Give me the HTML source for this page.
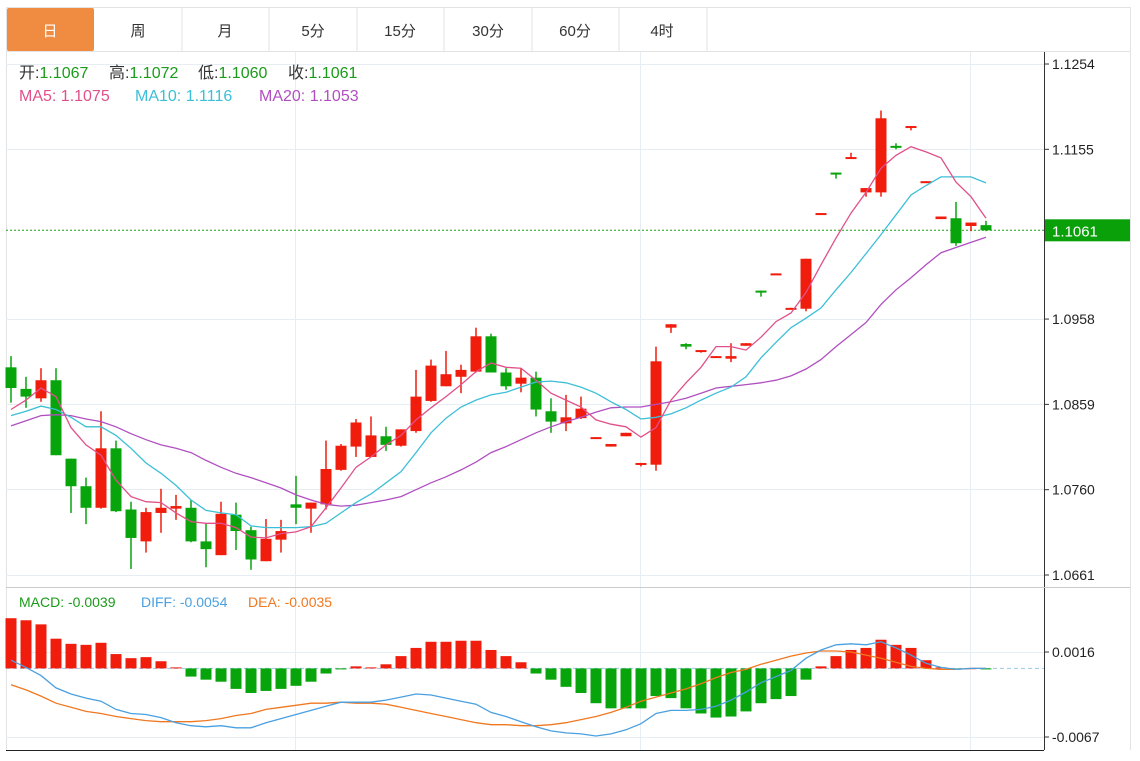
<!DOCTYPE html>
<html><head><meta charset="utf-8"><style>
html,body{margin:0;padding:0;background:#fff;}
body{width:1140px;height:756px;overflow:hidden;font-family:"Liberation Sans","Noto Sans CJK SC",sans-serif;}
svg text{font-family:"Liberation Sans","Noto Sans CJK SC",sans-serif;}
</style></head><body>
<svg id="chart" width="1140" height="756" xmlns="http://www.w3.org/2000/svg">
<g>
<rect x="6.5" y="7.5" width="1124" height="44" fill="#fff" stroke="#e3e3e3"/>
<rect x="7" y="8" width="87" height="43" rx="2" fill="#f08c42"/>
<text x="50" y="36" font-size="15" fill="#fff" text-anchor="middle">日</text>
<g><line x1="182" y1="8" x2="182" y2="51" stroke="#e3e3e3"/><text x="138" y="36" font-size="15" fill="#333" text-anchor="middle">周</text></g>
<g><line x1="269" y1="8" x2="269" y2="51" stroke="#e3e3e3"/><text x="225" y="36" font-size="15" fill="#333" text-anchor="middle">月</text></g>
<g><line x1="357" y1="8" x2="357" y2="51" stroke="#e3e3e3"/><text x="313" y="36" font-size="15" fill="#333" text-anchor="middle">5分</text></g>
<g><line x1="444" y1="8" x2="444" y2="51" stroke="#e3e3e3"/><text x="400" y="36" font-size="15" fill="#333" text-anchor="middle">15分</text></g>
<g><line x1="532" y1="8" x2="532" y2="51" stroke="#e3e3e3"/><text x="488" y="36" font-size="15" fill="#333" text-anchor="middle">30分</text></g>
<g><line x1="619" y1="8" x2="619" y2="51" stroke="#e3e3e3"/><text x="575" y="36" font-size="15" fill="#333" text-anchor="middle">60分</text></g>
<g><line x1="707" y1="8" x2="707" y2="51" stroke="#e3e3e3"/><text x="662" y="36" font-size="15" fill="#333" text-anchor="middle">4时</text></g>
</g>
<line x1="6.5" y1="51" x2="6.5" y2="750" stroke="#e3e3e3"/>
<line x1="1130.5" y1="51" x2="1130.5" y2="750" stroke="#e3e3e3"/>
<g id="grid"></g>
<g id="marks"></g>
<line x1="1044.5" y1="52" x2="1044.5" y2="750" stroke="#333"/>
<line x1="6" y1="587.5" x2="1130" y2="587.5" stroke="#ccc"/>
<line x1="6" y1="750.5" x2="1044" y2="750.5" stroke="#222"/>
<g id="axis"></g>
<g font-size="16">
<text x="19" y="78"><tspan fill="#333">开:</tspan><tspan fill="#1a9b1a">1.1067</tspan></text>
<text x="109" y="78"><tspan fill="#333">高:</tspan><tspan fill="#1a9b1a">1.1072</tspan></text>
<text x="198" y="78"><tspan fill="#333">低:</tspan><tspan fill="#1a9b1a">1.1060</tspan></text>
<text x="288" y="78"><tspan fill="#333">收:</tspan><tspan fill="#1a9b1a">1.1061</tspan></text>
</g>
<g font-size="16">
<text x="19" y="101" fill="#e0508a">MA5: 1.1075</text>
<text x="135" y="101" fill="#3cbfd6">MA10: 1.1116</text>
<text x="259" y="101" fill="#b050c0">MA20: 1.1053</text>
</g>
<g font-size="14">
<text x="19" y="607" fill="#1a9b1a">MACD: -0.0039</text>
<text x="141" y="607" fill="#4aa0e0">DIFF: -0.0054</text>
<text x="248" y="607" fill="#f07820">DEA: -0.0035</text>
</g>
</svg>
<script>
const opens=[1.0902,1.0877,1.0866,1.0887,1.0796,1.0764,1.0739,1.0808,1.0737,1.0700,1.0733,1.0738,1.0739,1.0700,1.0684,1.0731,1.0713,1.0677,1.0702,1.0743,1.0738,1.0743,1.0783,1.0810,1.0798,1.0822,1.0811,1.0828,1.0863,1.0880,1.0891,1.0897,1.0938,1.0896,1.0883,1.0890,1.0851,1.0837,1.0843,1.0819,1.0810,1.0822,1.0789,1.0789,1.0948,1.0929,1.0920,1.0913,1.0912,1.0927,1.0991,1.1010,1.0969,1.0970,1.1079,1.1128,1.1144,1.1105,1.1105,1.1159,1.1180,1.1117,1.1074,1.1075,1.1066,1.1067];
const highs=[1.0915,1.0891,1.0901,1.0901,1.0796,1.0774,1.0851,1.0817,1.0746,1.0739,1.0761,1.0754,1.0748,1.0721,1.0746,1.0745,1.0717,1.0726,1.0725,1.0776,1.0745,1.0817,1.0813,1.0842,1.0845,1.0833,1.0830,1.0899,1.0911,1.0921,1.0905,1.0948,1.0941,1.0901,1.0901,1.0897,1.0866,1.0870,1.0868,1.0821,1.0813,1.0826,1.0791,1.0926,1.0952,1.0930,1.0922,1.0915,1.0930,1.0930,1.0991,1.1011,1.0971,1.1028,1.1081,1.1128,1.1151,1.1110,1.1200,1.1162,1.1182,1.1118,1.1077,1.1094,1.1070,1.1072];
const lows=[1.0861,1.0855,1.0862,1.0800,1.0733,1.0720,1.0738,1.0734,1.0668,1.0687,1.0710,1.0725,1.0699,1.0670,1.0684,1.0690,1.0667,1.0677,1.0687,1.0720,1.0710,1.0737,1.0782,1.0798,1.0798,1.0805,1.0810,1.0826,1.0862,1.0880,1.0872,1.0896,1.0896,1.0876,1.0873,1.0845,1.0826,1.0828,1.0842,1.0819,1.0810,1.0822,1.0787,1.0782,1.0942,1.0923,1.0919,1.0913,1.0908,1.0927,1.0984,1.1010,1.0969,1.0967,1.1079,1.1121,1.1144,1.1100,1.1100,1.1155,1.1177,1.1117,1.1074,1.1043,1.1060,1.1060];
const closes=[1.0878,1.0868,1.0887,1.0800,1.0764,1.0739,1.0808,1.0735,1.0704,1.0734,1.0739,1.0741,1.0700,1.0691,1.0732,1.0712,1.0679,1.0703,1.0712,1.0739,1.0745,1.0784,1.0811,1.0838,1.0823,1.0812,1.0830,1.0868,1.0904,1.0894,1.0899,1.0938,1.0896,1.0880,1.0890,1.0853,1.0839,1.0844,1.0854,1.0821,1.0813,1.0826,1.0791,1.0909,1.0952,1.0926,1.0922,1.0915,1.0915,1.0930,1.0990,1.1011,1.0971,1.1028,1.1081,1.1126,1.1146,1.1110,1.1191,1.1158,1.1182,1.1118,1.1077,1.1046,1.1070,1.1061];
const ma5=[1.0853,1.0864,1.0878,1.0868,1.0832,1.0812,1.0800,1.0771,1.0752,1.0746,1.0745,1.0733,1.0723,1.0721,1.0721,1.0716,1.0705,1.0704,1.0709,1.0711,1.0717,1.0739,1.0762,1.0786,1.0798,1.0812,1.0823,1.0841,1.0855,1.0868,1.0882,1.0897,1.0907,1.0902,1.0901,1.0887,1.0872,1.0864,1.0856,1.0841,1.0836,1.0833,1.0821,1.0832,1.0864,1.0884,1.0902,1.0926,1.0926,1.0922,1.0937,1.0955,1.0965,1.0989,1.1021,1.1052,1.1081,1.1105,1.1133,1.1148,1.1158,1.1152,1.1145,1.1117,1.1100,1.1075];
const ma10=[1.0846,1.0851,1.0857,1.0853,1.0844,1.0833,1.0833,1.0823,1.0808,1.0791,1.0779,1.0765,1.0748,1.0736,1.0733,1.0731,1.0718,1.0716,1.0716,1.0716,1.0717,1.0721,1.0733,1.0745,1.0755,1.0768,1.0781,1.0803,1.0826,1.0843,1.0856,1.0864,1.0870,1.0873,1.0879,1.0885,1.0886,1.0884,1.0879,1.0872,1.0862,1.0853,1.0842,1.0844,1.0848,1.0855,1.0864,1.0872,1.0879,1.0891,1.0913,1.0931,1.0948,1.0959,1.0971,1.0992,1.1012,1.1034,1.1056,1.1079,1.1102,1.1113,1.1123,1.1123,1.1123,1.1116];
const ma20=[1.0834,1.0840,1.0846,1.0847,1.0846,1.0842,1.0839,1.0833,1.0825,1.0818,1.0812,1.0808,1.0803,1.0794,1.0786,1.0779,1.0774,1.0768,1.0762,1.0754,1.0748,1.0743,1.0741,1.0742,1.0745,1.0748,1.0752,1.0760,1.0768,1.0775,1.0783,1.0792,1.0803,1.0810,1.0818,1.0826,1.0833,1.0839,1.0844,1.0850,1.0855,1.0856,1.0856,1.0859,1.0862,1.0866,1.0872,1.0878,1.0880,1.0882,1.0884,1.0887,1.0892,1.0900,1.0911,1.0926,1.0940,1.0954,1.0975,1.0992,1.1006,1.1021,1.1035,1.1041,1.1047,1.1053];
const macdHist=[0.0049,0.0047,0.0043,0.0029,0.0024,0.0023,0.0025,0.0014,0.0010,0.0011,0.0007,0.0001,-0.0008,-0.0011,-0.0013,-0.0020,-0.0024,-0.0022,-0.0020,-0.0017,-0.0013,-0.0005,-0.0001,0.0002,0.0001,0.0004,0.0012,0.0020,0.0026,0.0026,0.0027,0.0027,0.0018,0.0012,0.0006,-0.0005,-0.0011,-0.0018,-0.0024,-0.0034,-0.0039,-0.0039,-0.0039,-0.0027,-0.0029,-0.0039,-0.0044,-0.0048,-0.0047,-0.0042,-0.0034,-0.0030,-0.0027,-0.0011,0.0002,0.0012,0.0018,0.0020,0.0028,0.0023,0.0020,0.0008,0.0001,-0.0001,0.0000,-0.0001];
const diff=[0.0008,0.0001,-0.0007,-0.0019,-0.0025,-0.0029,-0.0032,-0.0040,-0.0044,-0.0045,-0.0048,-0.0053,-0.0056,-0.0057,-0.0056,-0.0058,-0.0058,-0.0053,-0.0049,-0.0045,-0.0041,-0.0037,-0.0033,-0.0033,-0.0033,-0.0031,-0.0028,-0.0025,-0.0026,-0.0029,-0.0032,-0.0035,-0.0043,-0.0047,-0.0052,-0.0057,-0.0061,-0.0063,-0.0064,-0.0066,-0.0064,-0.0060,-0.0054,-0.0044,-0.0041,-0.0041,-0.0040,-0.0037,-0.0031,-0.0023,-0.0014,-0.0008,-0.0002,0.0010,0.0018,0.0023,0.0024,0.0023,0.0026,0.0020,0.0013,0.0005,0.0001,-0.0001,0.0000,0.0000];
const dea=[-0.0016,-0.0021,-0.0027,-0.0034,-0.0038,-0.0042,-0.0044,-0.0047,-0.0049,-0.0051,-0.0052,-0.0052,-0.0052,-0.0051,-0.0049,-0.0046,-0.0044,-0.0040,-0.0038,-0.0036,-0.0034,-0.0034,-0.0033,-0.0034,-0.0034,-0.0035,-0.0038,-0.0041,-0.0044,-0.0047,-0.0050,-0.0053,-0.0055,-0.0055,-0.0056,-0.0056,-0.0055,-0.0053,-0.0050,-0.0047,-0.0043,-0.0038,-0.0032,-0.0028,-0.0024,-0.0020,-0.0015,-0.0009,-0.0004,-0.0001,0.0004,0.0008,0.0012,0.0015,0.0017,0.0017,0.0016,0.0013,0.0010,0.0006,0.0002,0.0000,-0.0001,-0.0001,0.0000,0.0000];
const priceTicks=["1.1254","1.1155","1.1058","1.0958","1.0859","1.0760","1.0661"];
const macdTicks=["0.0016","-0.0067"];
const lastPrice=1.1061;

const NS="http://www.w3.org/2000/svg";
function mk(tag,attrs,parent){const e=document.createElementNS(NS,tag);for(const k in attrs)e.setAttribute(k,attrs[k]);parent.appendChild(e);return e;}
const xAt=i=>11+15*i;
const yP=p=>64+(1.1254-p)*8617;
const yM=v=>668.4-v*10241;
const grid=document.getElementById('grid'),marks=document.getElementById('marks'),axis=document.getElementById('axis');
[64,149,234,319,404,489,575,652,737].forEach(y=>{
  if(y===234)return;
  const l=mk('line',{x1:6,x2:1044,y1:y+0.5,y2:y+0.5,stroke:'#e6edf3'},grid);
  
  
});
[295,640,970].forEach(x=>{
  const l=mk('line',{x1:x+0.5,x2:x+0.5,y1:52,y2:750,stroke:'#e6edf3'},grid);
  
  
});
priceTicks.forEach(t=>{
  const y=yP(parseFloat(t));
  if(t==="1.1058")return;
  mk('line',{x1:1044,x2:1049,y1:y,y2:y,stroke:'#333'},axis);
  const tx=mk('text',{x:1052,y:y+5,'font-size':14,fill:'#222'},axis);
  tx.textContent=t;
  
  
});
macdTicks.forEach(t=>{
  const y=yM(parseFloat(t));
  mk('line',{x1:1044,x2:1049,y1:y,y2:y,stroke:'#333'},axis);
  const tx=mk('text',{x:1052,y:y+5,'font-size':14,fill:'#222'},axis);
  tx.textContent=t;
  
  
});
const ly=yP(lastPrice);
const lpl=mk('line',{x1:6,x2:1044,y1:ly,y2:ly,stroke:'#1a9b1a','stroke-dasharray':'2,2'},marks);


const lpb=mk('rect',{x:1045,y:ly-11,width:85,height:22,fill:'#0aa00a'},axis);


const lpt=mk('text',{x:1052,y:ly+6,'font-size':15,fill:'#fff'},axis);
lpt.textContent=lastPrice.toFixed(4);


const zl=mk('line',{x1:6,x2:1044,y1:yM(0),y2:yM(0),stroke:'#9cc8e8','stroke-dasharray':'4,3'},marks);


for(let i=0;i<opens.length;i++){
  const up=closes[i]>=opens[i],col=up?'#f01c0c':'#08a40c',x=xAt(i);
  const g=mk('g',{},marks);
  
  
  mk('line',{x1:x,x2:x,y1:yP(highs[i]),y2:yP(lows[i]),stroke:col,'stroke-width':1.5},g);
  const t=yP(Math.max(opens[i],closes[i])),b=yP(Math.min(opens[i],closes[i]));
  mk('rect',{x:x-5.5,y:t,width:11,height:Math.max(2,b-t),fill:col},g);
}
function line(arr,ys,col,name){
  const d=arr.map((v,i)=>(i?'L':'M')+xAt(i)+','+ys(v).toFixed(1)).join('');
  const p=mk('path',{d:d,fill:'none',stroke:col,'stroke-width':1.3},marks);
  
  
}
line(ma20,yP,'#b050c0','ma20-line');
line(ma10,yP,'#3cbfd6','ma10-line');
line(ma5,yP,'#e0508a','ma5-line');
macdHist.forEach((v,i)=>{
  const y0=yM(0),y1=yM(v);
  const r=mk('rect',{x:xAt(i)-5.5,y:Math.min(y0,y1),width:11,height:Math.max(0.8,Math.abs(y1-y0)),fill:v>=0?'#f01c0c':'#08a40c'},marks);
  
  
});
line(dea,yM,'#f07820','dea-line');
line(diff,yM,'#4aa0e0','diff-line');
</script>
</body></html>
